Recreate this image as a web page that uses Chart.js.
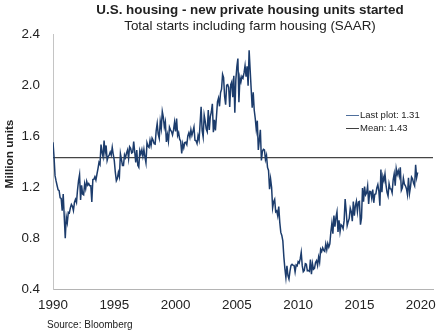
<!DOCTYPE html>
<html>
<head>
<meta charset="utf-8">
<script src="https://cdn.jsdelivr.net/npm/chart.js@4.4.1/dist/chart.umd.min.js"></script>
<style>
  body { margin:0; background:#fff; }
  #wrap { position:relative; width:443px; height:331px; overflow:hidden;
          font-family:"Liberation Sans", Arial, sans-serif; color:#222; }
  #chart { position:absolute; left:0; top:0; }
  .t { position:absolute; white-space:nowrap; }
  #title { left:0; width:500px; text-align:center; top:2px; font-size:13.4px; font-weight:bold; line-height:16px; }
  #subtitle { left:0; width:500px; text-align:center; top:18px; font-size:13.4px; line-height:16px; }
  #ytitle { left:-51px; top:146px; width:120px; height:16px; line-height:16px; text-align:center;
            font-size:11.8px; font-weight:bold; transform:rotate(-90deg); }
  #source { left:47px; top:318px; font-size:10px; line-height:13px; }
  .leg { left:346px; font-size:9.5px; line-height:12px; }
  .leg span { display:inline-block; width:13px; height:0; vertical-align:middle; margin-right:1px; }
</style>
</head>
<body>
<div id="wrap">
  <canvas id="chart" width="443" height="331"></canvas>
  <div class="t" id="title">U.S. housing - new private housing units started</div>
  <div class="t" id="subtitle">Total starts including farm housing (SAAR)</div>
  <div class="t" id="ytitle">Million units</div>
  <div class="t leg" style="top:109px"><span style="border-top:1px solid #4f6f9c"></span>Last plot: 1.31</div>
  <div class="t leg" style="top:122px"><span style="border-top:1px solid #404040"></span>Mean: 1.43</div>
  <div class="t" id="source">Source: Bloomberg</div>
</div>
<script>
// monthly housing starts, million units, SAAR (Jan 1990 ... Oct 2019)
var startYear = 1990
var starts1990s = [
  1.551,1.437,1.289,1.248,1.212,1.177,1.171,1.115,1.110,1.014,1.145,0.969,
  0.798,0.965,0.921,1.001,0.996,1.036,1.063,1.049,1.015,1.079,1.103,1.079,
  1.176,1.250,1.297,1.099,1.214,1.145,1.139,1.226,1.186,1.244,1.214,1.227,
  1.210,1.210,1.083,1.258,1.260,1.280,1.254,1.300,1.343,1.392,1.376,1.533,
  1.472,1.437,1.564,1.465,1.526,1.409,1.439,1.450,1.474,1.450,1.511,1.455,
  1.407,1.316,1.249,1.267,1.314,1.281,1.461,1.416,1.369,1.369,1.452,1.431,
  1.467,1.491,1.424,1.516,1.504,1.467,1.472,1.557,1.475,1.392,1.489,1.370,
  1.355,1.486,1.457,1.492,1.442,1.494,1.437,1.390,1.546,1.520,1.510,1.566,
  1.525,1.584,1.567,1.540,1.536,1.641,1.698,1.614,1.582,1.715,1.660,1.792,
  1.748,1.670,1.710,1.553,1.611,1.559,1.669,1.648,1.635,1.608,1.648,1.708
]
var starts2000s = [
  1.636,1.737,1.604,1.626,1.575,1.559,1.463,1.541,1.507,1.549,1.551,1.532,
  1.600,1.625,1.590,1.649,1.605,1.636,1.670,1.567,1.562,1.540,1.602,1.568,
  1.698,1.829,1.642,1.592,1.764,1.717,1.655,1.633,1.804,1.648,1.753,1.788,
  1.853,1.629,1.726,1.643,1.751,1.867,1.897,1.833,1.939,1.967,2.083,2.057,
  1.911,1.846,1.998,2.003,1.981,1.828,2.002,2.024,1.905,2.072,1.782,2.042,
  2.144,2.207,1.864,2.061,2.025,2.068,2.054,2.095,2.151,2.065,2.147,1.994,
  2.273,2.119,1.969,1.821,1.942,1.802,1.737,1.650,1.720,1.491,1.570,1.649,
  1.409,1.480,1.495,1.490,1.415,1.448,1.354,1.330,1.183,1.264,1.197,1.037,
  1.084,1.103,1.005,1.013,0.973,1.046,0.923,0.844,0.820,0.777,0.652,0.560,
  0.490,0.582,0.505,0.478,0.540,0.585,0.594,0.586,0.585,0.534,0.588,0.581
]
var starts2010s = [
  0.614,0.604,0.636,0.687,0.583,0.536,0.546,0.599,0.594,0.543,0.545,0.539,
  0.630,0.517,0.600,0.554,0.561,0.608,0.623,0.585,0.650,0.610,0.711,0.694,
  0.723,0.704,0.695,0.753,0.708,0.757,0.728,0.754,0.847,0.915,0.833,0.976,
  0.888,0.962,1.005,0.847,0.939,0.849,0.904,0.895,0.873,0.936,1.105,1.012,
  0.897,0.928,0.954,1.034,1.006,0.932,1.086,0.975,1.052,1.088,1.008,1.083,
  1.087,0.904,0.957,1.191,1.084,1.204,1.138,1.153,1.208,1.067,1.166,1.164,
  1.113,1.180,1.076,1.142,1.145,1.192,1.219,1.167,1.054,1.337,1.160,1.283,
  1.250,1.303,1.217,1.158,1.129,1.226,1.187,1.184,1.155,1.257,1.303,1.210,
  1.344,1.299,1.328,1.286,1.354,1.174,1.194,1.269,1.222,1.209,1.187,1.140,
  1.273,1.150,1.203,1.278,1.265,1.230,1.210,1.375,1.274,1.314
]
var meanValue = 1.43
var xTicks = [1990, 1995, 2000, 2005, 2010, 2015, 2020]
var yTicks = [0.4, 0.8, 1.2, 1.6, 2.0, 2.4]
var xMin = 1990, xMax = 2021

var all = starts1990s.concat(starts2000s, starts2010s)
var points = all.map(function(v, i){ return {x: startYear + i/12, y: v} })

var tickFont = {family: "'Liberation Sans', Arial, sans-serif", size: 13.4}

new Chart(document.getElementById('chart'), {
  type: 'line',
  data: {
    datasets: [{
      label: 'Last plot: 1.31',
      data: points,
      borderColor: '#1c3c6c',
      borderWidth: 1.5,
      pointRadius: 0,
      tension: 0
    }, {
      label: 'Mean: 1.43',
      data: [{x: xMin, y: meanValue}, {x: xMax, y: meanValue}],
      borderColor: '#454545',
      borderWidth: 1.3,
      pointRadius: 0
    }]
  },
  options: {
    responsive: false,
    animation: false,
    devicePixelRatio: 1,
    layout: {padding: {left: 0, right: 10, top: 34, bottom: 0}},
    plugins: {legend: {display: false}, tooltip: {enabled: false}},
    scales: {
      x: {
        type: 'linear', min: xMin, max: xMax,
        grid: {display: false},
        border: {display: true, color: '#b4b4b4', width: 1},
        afterFit: function(s){ s.height = 42 },
        afterBuildTicks: function(s){ s.ticks = xTicks.map(function(v){ return {value: v} }) },
        ticks: {
          color: '#222', font: tickFont, padding: 0, maxRotation: 0, autoSkip: false,
          callback: function(v){ return String(v) }
        }
      },
      y: {
        min: 0.4, max: 2.4,
        grid: {display: false},
        border: {display: true, color: '#c4c4c4', width: 1},
        afterFit: function(s){ s.width = 53 },
        afterBuildTicks: function(s){ s.ticks = yTicks.map(function(v){ return {value: v} }) },
        ticks: {
          color: '#222', font: tickFont, padding: 5,
          callback: function(v){ return v.toFixed(1) }
        }
      }
    }
  }
})
</script>
</body>
</html>
